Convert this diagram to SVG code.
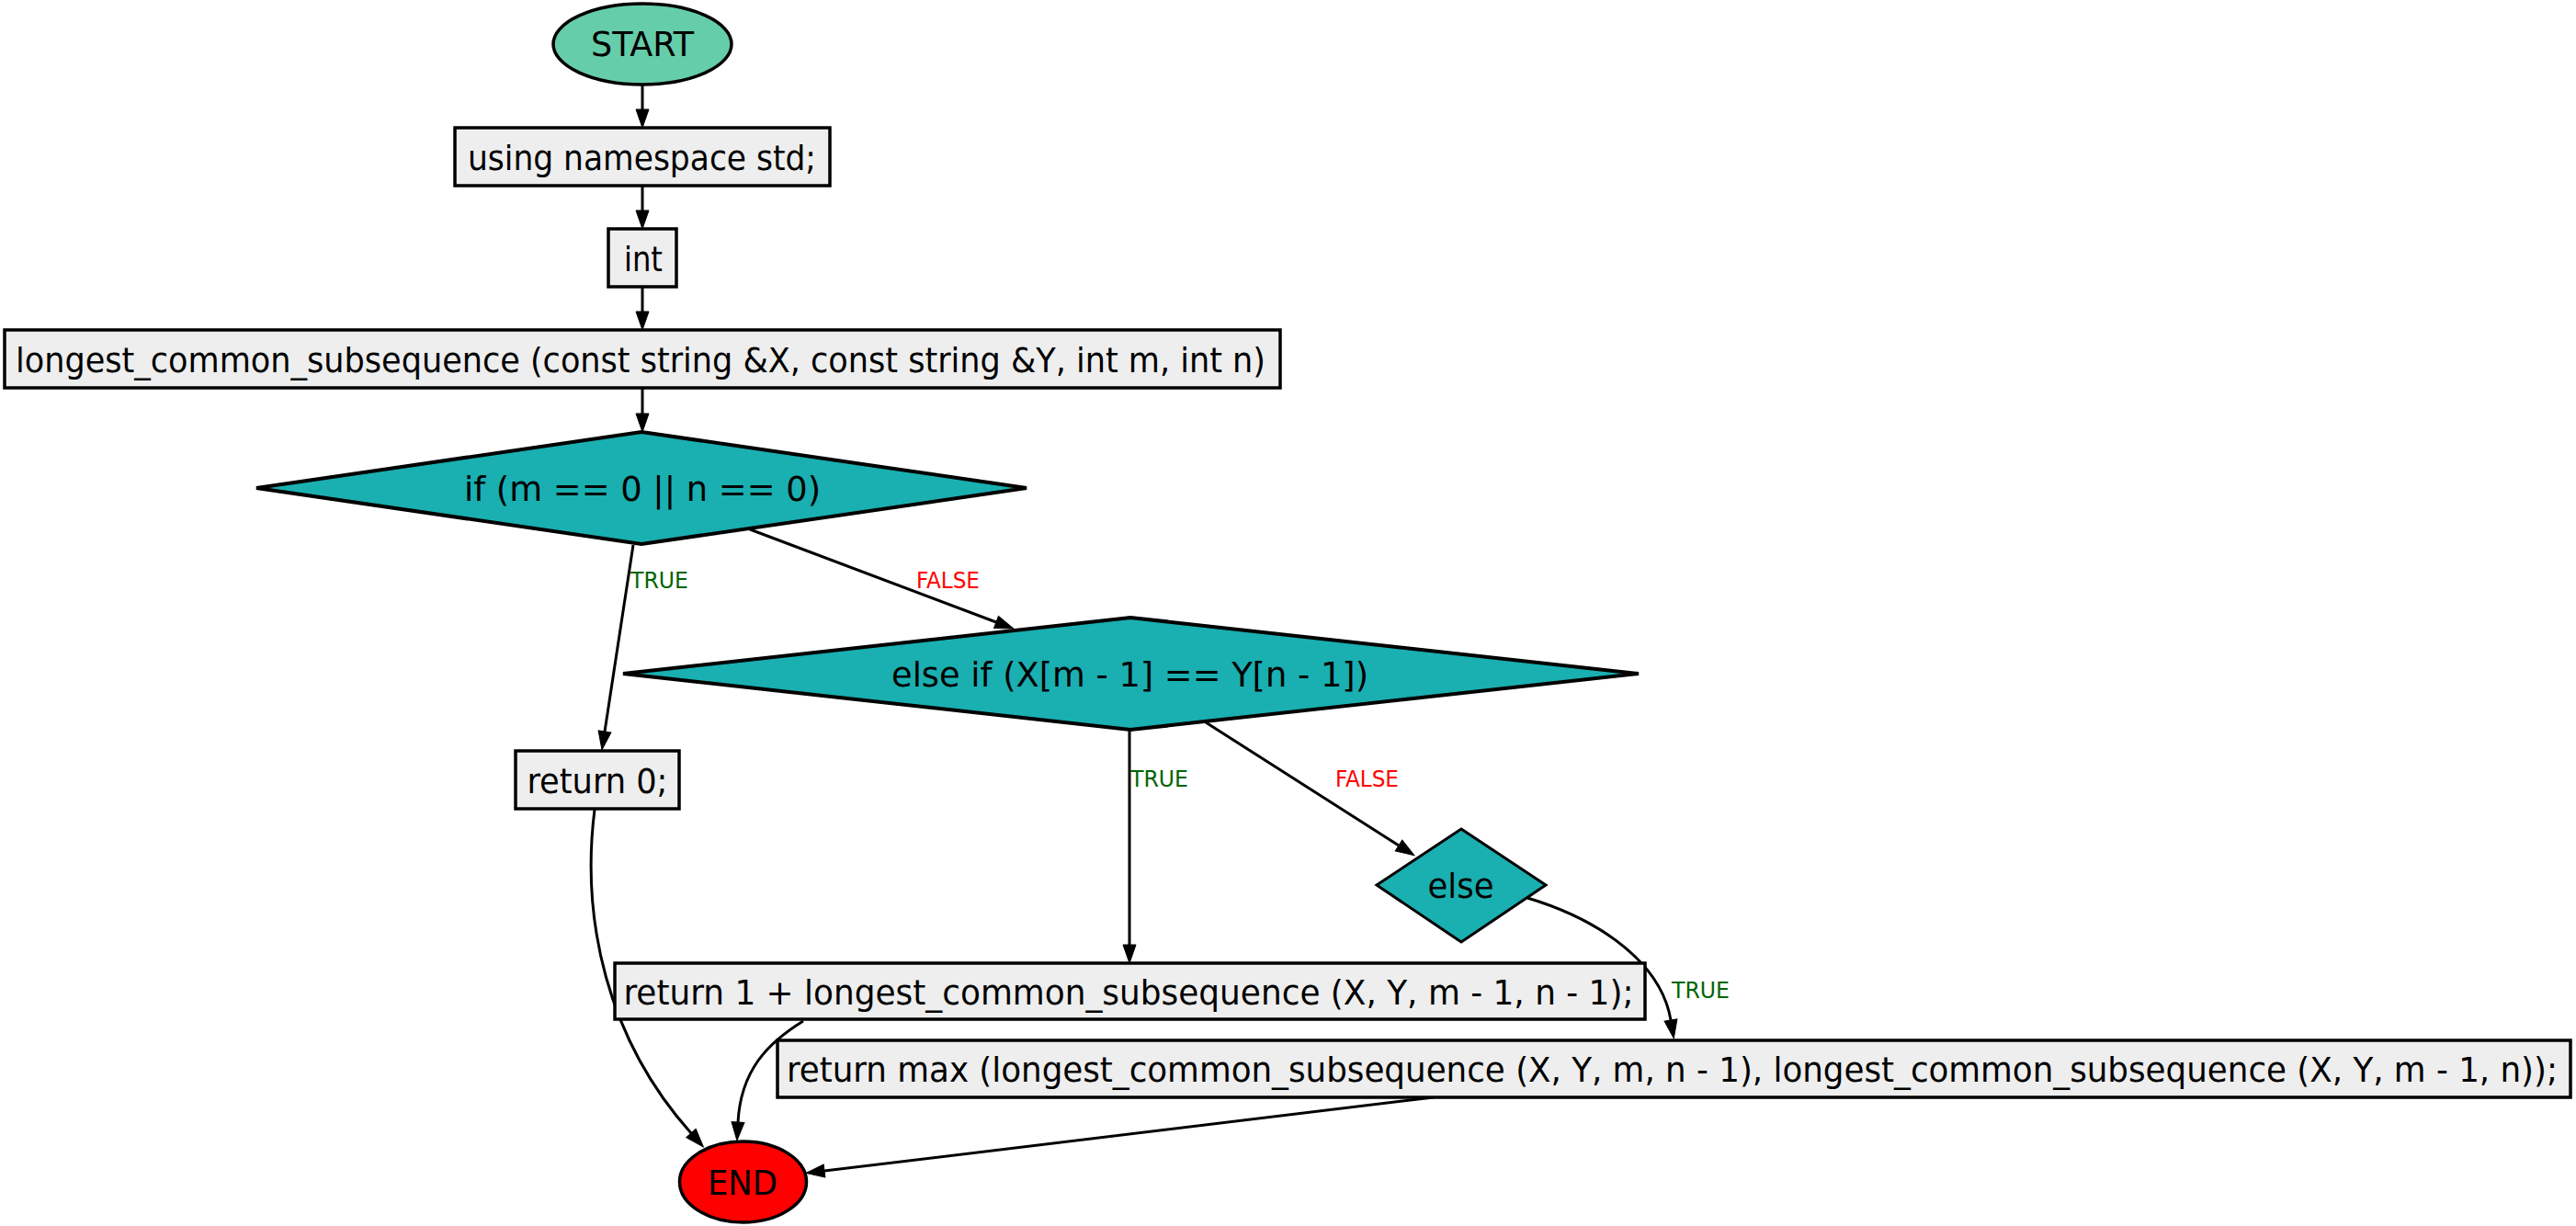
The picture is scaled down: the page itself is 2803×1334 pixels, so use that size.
<svg xmlns="http://www.w3.org/2000/svg" width="2803" height="1334" viewBox="0 0 2803 1334">
<style>
text { font-family: "DejaVu Sans Condensed", "DejaVu Sans", sans-serif; font-stretch: condensed; }
.nt { font-size: 38px; fill: #000; text-anchor: middle; }
.box { fill: #eeeeee; stroke: #000; stroke-width: 3.5; }
.dia { fill: #1aafb0; stroke: #000; stroke-width: 4; }
.edge { fill: none; stroke: #000; stroke-width: 3; }
.lt { font-size: 25.5px; fill: #006400; }
.lf { font-size: 25.5px; fill: #ff0000; }
</style>
<defs>
<marker id="ah" markerUnits="userSpaceOnUse" markerWidth="21" markerHeight="15" refX="0" refY="7" orient="auto" overflow="visible">
<path d="M0,0 L20,7 L0,14 z" fill="#000" stroke="#000" stroke-width="1"/>
</marker>
</defs>
<rect x="0" y="0" width="2803" height="1334" fill="#ffffff"/>
<g id="connectors">
<path class="edge" marker-end="url(#ah)" d="M699,92 L699,119"/>
<path class="edge" marker-end="url(#ah)" d="M699,202 L699,229"/>
<path class="edge" marker-end="url(#ah)" d="M699,312 L699,339"/>
<path class="edge" marker-end="url(#ah)" d="M699,422 L699,450"/>
<path class="edge" marker-end="url(#ah)" d="M689,593 L658,796"/>
<text class="lt" x="686" y="640" textLength="63" lengthAdjust="spacingAndGlyphs">TRUE</text>
<path class="edge" marker-end="url(#ah)" d="M816,576 L1084,677"/>
<text class="lf" x="997" y="640" textLength="69" lengthAdjust="spacingAndGlyphs">FALSE</text>
<path class="edge" marker-end="url(#ah)" d="M1229,794 L1229,1028"/>
<text class="lt" x="1230" y="856" textLength="63" lengthAdjust="spacingAndGlyphs">TRUE</text>
<path class="edge" marker-end="url(#ah)" d="M1312,786 L1522,920"/>
<text class="lf" x="1453" y="856" textLength="69" lengthAdjust="spacingAndGlyphs">FALSE</text>
<path class="edge" marker-end="url(#ah)" d="M1662,977 C1745,1002 1808,1050 1818,1110"/>
<text class="lt" x="1819" y="1086" textLength="63" lengthAdjust="spacingAndGlyphs">TRUE</text>
<path class="edge" marker-end="url(#ah)" d="M647,881 C632,1000 660,1130 752,1233"/>
<path class="edge" marker-end="url(#ah)" d="M874,1111 C835,1135 806,1165 803,1221"/>
<path class="edge" marker-end="url(#ah)" d="M1560,1194 L897,1274"/>
</g>
<g id="start">
<ellipse cx="699" cy="48" rx="97" ry="44" fill="#66cdaa" stroke="#000" stroke-width="3.5"/>
<text class="nt" x="699" y="61" textLength="112" lengthAdjust="spacingAndGlyphs">START</text>
</g>
<g id="using">
<rect class="box" x="495" y="139" width="408" height="63"/>
<text class="nt" x="698.5" y="185" textLength="379" lengthAdjust="spacingAndGlyphs">using namespace std;</text>
</g>
<g id="int">
<rect class="box" x="662" y="249" width="74" height="63"/>
<text class="nt" x="700" y="295" textLength="42" lengthAdjust="spacingAndGlyphs">int</text>
</g>
<g id="func">
<rect class="box" x="5" y="359" width="1388" height="63"/>
<text class="nt" x="697" y="405" textLength="1360" lengthAdjust="spacingAndGlyphs">longest_common_subsequence (const string &amp;X, const string &amp;Y, int m, int n)</text>
</g>
<g id="if1">
<polygon class="dia" points="698,470 1117,531 698,592 279,531"/>
<text class="nt" x="699" y="545" textLength="388" lengthAdjust="spacingAndGlyphs">if (m == 0 || n == 0)</text>
</g>
<g id="if2">
<polygon class="dia" points="1230,672 1783,733 1230,794 678,733"/>
<text class="nt" x="1229.5" y="747" textLength="519" lengthAdjust="spacingAndGlyphs">else if (X[m - 1] == Y[n - 1])</text>
</g>
<g id="else">
<polygon class="dia" style="stroke-width:3" points="1590,902 1682,963 1590,1025 1498,963"/>
<text class="nt" x="1589.5" y="977" textLength="72" lengthAdjust="spacingAndGlyphs">else</text>
</g>
<g id="ret0">
<rect class="box" x="561" y="817" width="178" height="63"/>
<text class="nt" x="650" y="863" textLength="153" lengthAdjust="spacingAndGlyphs">return 0;</text>
</g>
<g id="ret1">
<rect class="box" x="669" y="1048" width="1121" height="61"/>
<text class="nt" x="1228" y="1093" textLength="1099" lengthAdjust="spacingAndGlyphs">return 1 + longest_common_subsequence (X, Y, m - 1, n - 1);</text>
</g>
<g id="retmax">
<rect class="box" x="846" y="1132" width="1951" height="62"/>
<text class="nt" x="1819.5" y="1177" textLength="1927" lengthAdjust="spacingAndGlyphs">return max (longest_common_subsequence (X, Y, m, n - 1), longest_common_subsequence (X, Y, m - 1, n));</text>
</g>
<g id="end">
<ellipse cx="808.5" cy="1286" rx="69" ry="44" fill="#ff0000" stroke="#000" stroke-width="3.5"/>
<text class="nt" x="808" y="1300" textLength="76" lengthAdjust="spacingAndGlyphs">END</text>
</g>
</svg>
